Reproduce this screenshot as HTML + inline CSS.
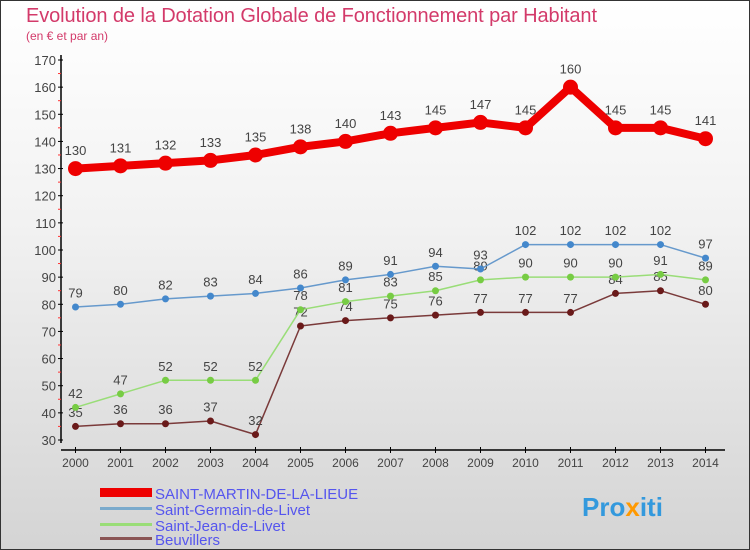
<!DOCTYPE html>
<html><head><meta charset="utf-8"><style>
body{margin:0;width:750px;height:550px;overflow:hidden;font-family:"Liberation Sans",sans-serif}
#wrap{position:absolute;left:0;top:0;width:748px;height:548px;border:1px solid #333;background:linear-gradient(#ffffff,#f2f2f2 40%,#d4d4d4)}
</style></head><body>
<div id="wrap">
<svg id="chart" width="750" height="550" style="position:absolute;left:-1px;top:-1px">
<text x="26" y="22" font-size="20" fill="#d33a6a" textLength="571">Evolution de la Dotation Globale de Fonctionnement par Habitant</text>
<text x="26" y="40" font-size="12" fill="#d33a6a">(en € et par an)</text>
<g id="axes"></g><g id="series"></g>
<g>
<rect x="100" y="488" width="52" height="9" fill="#e00"/>
<text x="155" y="499" font-size="15" fill="#5555ee">SAINT-MARTIN-DE-LA-LIEUE</text>
<rect x="100" y="507" width="52" height="3" fill="#7aaacc"/>
<text x="155" y="515" font-size="15" fill="#5555ee">Saint-Germain-de-Livet</text>
<rect x="100" y="523" width="52" height="3" fill="#99dd77"/>
<text x="155" y="531" font-size="15" fill="#5555ee">Saint-Jean-de-Livet</text>
<rect x="100" y="537" width="52" height="3" fill="#8a5555"/>
<text x="155" y="545" font-size="15" fill="#5555ee">Beuvillers</text>
</g>
<text x="582" y="516" font-size="26" font-weight="bold" fill="#3399dd">Pro<tspan fill="#ff9900">x</tspan>iti</text>
</svg></div>
<script>
const years=[2000,2001,2002,2003,2004,2005,2006,2007,2008,2009,2010,2011,2012,2013,2014];
const yTicks=[30,40,50,60,70,80,90,100,110,120,130,140,150,160,170];
const stMartin=[130,131,132,133,135,138,140,143,145,147,145,160,145,145,141];
const stGermain=[79,80,82,83,84,86,89,91,94,93,102,102,102,102,97];
const stJean=[42,47,52,52,52,78,81,83,85,89,90,90,90,91,89];
const beuvillers=[35,36,36,37,32,72,74,75,76,77,77,77,84,85,80];
const NS="http://www.w3.org/2000/svg";
const xs=i=>75.5+i*45, ys=v=>440-(v-30)*(380/140);
function mk(p,t,a){const e=document.createElementNS(NS,t);for(const k in a)e.setAttribute(k,a[k]);p.appendChild(e);return e;}
const ax=document.getElementById('axes');
let e=mk(ax,'line',{x1:61,y1:55,x2:61,y2:443,stroke:'#000','stroke-width':1.5});


e=mk(ax,'line',{x1:61,y1:450,x2:725,y2:450,stroke:'#000','stroke-width':1.5});


yTicks.forEach(v=>{const y=ys(v);
mk(ax,'line',{x1:58,y1:y,x2:63,y2:y,stroke:'#000'});
if(v<170)mk(ax,'line',{x1:58,y1:y-13.6,x2:61,y2:y-13.6,stroke:'#f33'});
const t=mk(ax,'text',{x:56,y:y+5,'text-anchor':'end','font-size':13,fill:'#444'});t.textContent=v;

});
years.forEach((yr,i)=>{const x=xs(i);
mk(ax,'line',{x1:x,y1:447,x2:x,y2:453,stroke:'#000'});
const t=mk(ax,'text',{x:x,y:467,'text-anchor':'middle','font-size':12,fill:'#444'});t.textContent=yr;

});
const sg=document.getElementById('series');
function series(d,name,col,w,r,dot){const g=mk(sg,'g',{});


mk(g,'polyline',{points:d.map((v,i)=>xs(i)+','+ys(v)).join(' '),fill:'none',stroke:col,'stroke-width':w,'stroke-linejoin':'round'});
d.forEach((v,i)=>{const c=mk(g,'circle',{cx:xs(i),cy:ys(v),r:r,fill:dot});


const t=mk(g,'text',{x:xs(i),y:ys(v)-(r+6),'text-anchor':'middle','font-size':13,fill:'#444'});t.textContent=v;

});}
series(beuvillers,'beuvillers-series','#7a3a3a',1.5,3.5,'#6a1a1a');
series(stJean,'saint-jean-series','#99dd77',1.5,3.5,'#77cc44');
series(stGermain,'saint-germain-series','#6699cc',1.5,3.5,'#4488cc');
series(stMartin,'saint-martin-series','#ee0000',8,7.5,'#ee0000');
</script></body></html>
